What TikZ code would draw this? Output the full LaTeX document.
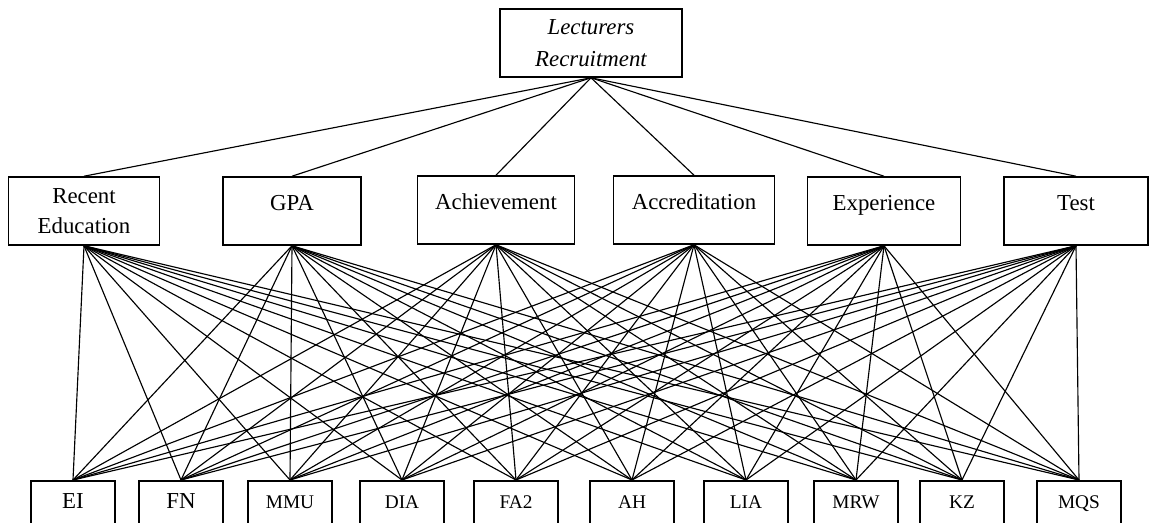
\documentclass[tikz,border=0pt]{standalone}
\usepackage{fontspec}
\setmainfont{Liberation Serif}
\usepackage{tikz}
\usetikzlibrary{positioning}
\tikzset{myBoxLine/.style={draw, line width=0.9pt, color=black}}
\tikzset{myGoalBox/.style={myBoxLine, minimum width=3.64cm, minimum height=1.36cm, align=center, inner sep=0pt, font=\fontsize{13}{18.5}\selectfont\itshape}}
\tikzset{myCritBox/.style={myBoxLine, minimum height=1.36cm, align=center, inner sep=0pt, font=\fontsize{13}{17}\selectfont}}
\tikzset{myOneLine/.style={text height=0.65cm, text depth=0.65cm}}
\tikzset{myAltBox/.style={myBoxLine, anchor=north, minimum width=1.68cm, inner sep=0pt, text height=0.55cm, text depth=1cm, font=\fontsize{11}{13}\selectfont}}
\tikzset{myLink/.style={line width=0.65pt, color=black}}

\begin{document}
\begin{tikzpicture}[x=0.02cm, y=-0.02cm]
	\useasboundingbox (0,0) rectangle (1150,523);
	\clip (0,0) rectangle (1150,523);

	% goal
	\node[myGoalBox] (goal) at (591,43) {Lecturers\\Recruitment};

	% criteria
	\node[myCritBox, minimum width=3.02cm] (re) at (84,211) {Recent\\Education};
	\node[myCritBox, myOneLine, minimum width=2.76cm] (gpa) at (292,211) {GPA};
	\node[myCritBox, myOneLine, minimum width=3.14cm] (ach) at (496,210) {Achievement};
	\node[myCritBox, myOneLine, minimum width=3.22cm] (acc) at (694,210) {Accreditation};
	\node[myCritBox, myOneLine, minimum width=3.06cm] (exp) at (884,211) {Experience};
	\node[myCritBox, myOneLine, minimum width=2.88cm] (test) at (1076,211) {Test};

	% alternatives
	\node[myAltBox, font=\fontsize{13}{15}\selectfont] (ei) at (73,480) {EI};
	\node[myAltBox, font=\fontsize{13}{15}\selectfont] (fn) at (181,480) {FN};
	\node[myAltBox] (mmu) at (290,480) {MMU};
	\node[myAltBox] (dia) at (402,480) {DIA};
	\node[myAltBox] (fa2) at (516,480) {FA2};
	\node[myAltBox] (ah) at (632,480) {AH};
	\node[myAltBox] (lia) at (746,480) {LIA};
	\node[myAltBox] (mrw) at (856,480) {MRW};
	\node[myAltBox] (kz) at (962,480) {KZ};
	\node[myAltBox] (mqs) at (1079,480) {MQS};

	\foreach \c in {re,gpa,ach,acc,exp,test}
		\draw[myLink] (goal.south) -- (\c.north);

	\foreach \c in {re,gpa,ach,acc,exp,test}
		\foreach \a in {ei,fn,mmu,dia,fa2,ah,lia,mrw,kz,mqs}
			\draw[myLink] (\c.south) -- (\a.north);

\end{tikzpicture}
\end{document}
